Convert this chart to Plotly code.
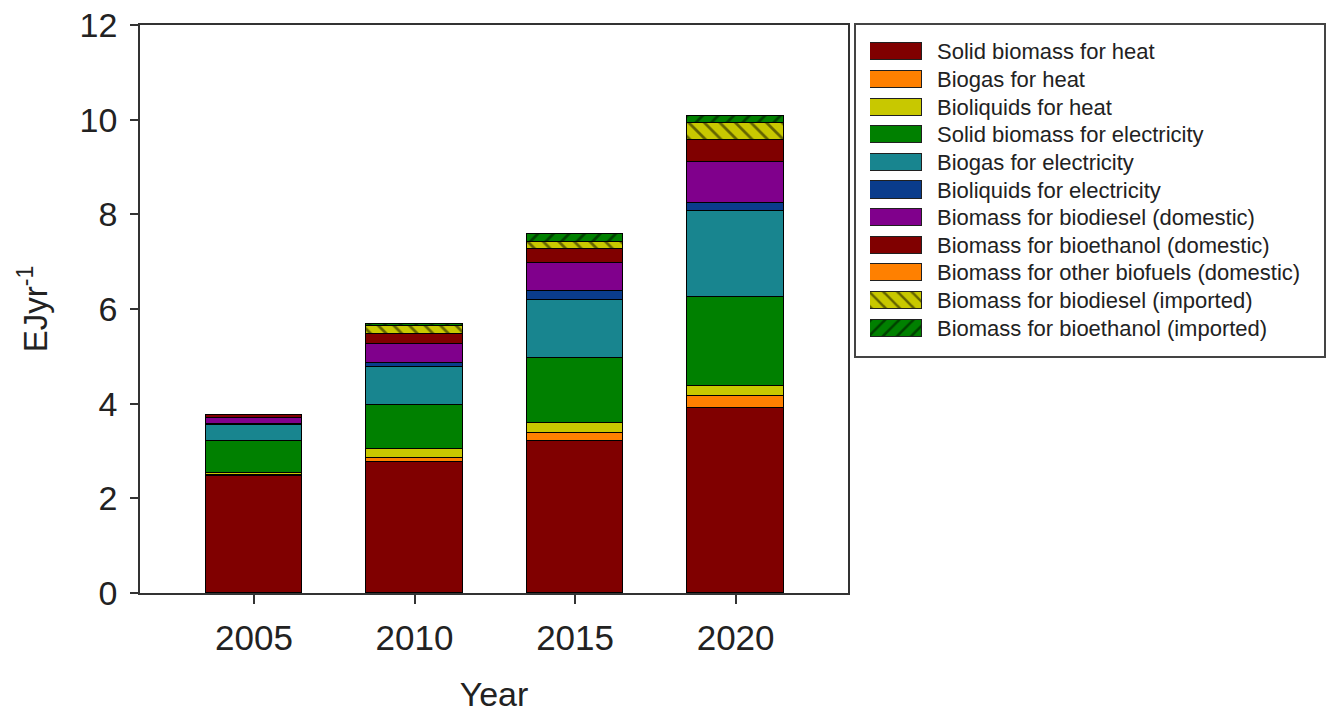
import plotly.graph_objects as go

# Bioenergy use by end-use category, EJ per year
years = ["2005", "2010", "2015", "2020"]

solid_biomass_heat = [2.47, 2.77, 3.22, 3.91]
biogas_heat = [0.02, 0.08, 0.16, 0.26]
bioliquids_heat = [0.04, 0.19, 0.21, 0.21]
solid_biomass_elec = [0.68, 0.93, 1.37, 1.87]
biogas_elec = [0.34, 0.80, 1.23, 1.82]
bioliquids_elec = [0.03, 0.08, 0.18, 0.16]
biodiesel_domestic = [0.12, 0.42, 0.61, 0.88]
bioethanol_domestic = [0.06, 0.20, 0.28, 0.46]
other_biofuels_domestic = [0.0, 0.0, 0.0, 0.0]
biodiesel_imported = [0.0, 0.18, 0.16, 0.35]
bioethanol_imported = [0.0, 0.04, 0.16, 0.15]

series_names = [
    "Solid biomass for heat",
    "Biogas for heat",
    "Bioliquids for heat",
    "Solid biomass for electricity",
    "Biogas for electricity",
    "Bioliquids for electricity",
    "Biomass for biodiesel (domestic)",
    "Biomass for bioethanol (domestic)",
    "Biomass for other biofuels (domestic)",
    "Biomass for biodiesel (imported)",
    "Biomass for bioethanol (imported)",
]
series_values = [
    solid_biomass_heat, biogas_heat, bioliquids_heat,
    solid_biomass_elec, biogas_elec, bioliquids_elec,
    biodiesel_domestic, bioethanol_domestic, other_biofuels_domestic,
    biodiesel_imported, bioethanol_imported,
]
series_colors = [
    "#800000", "#FF8000", "#C8C800",
    "#008000", "#18858F", "#0A3C8C",
    "#80008C", "#800000", "#FF8000",
    "#C8C800", "#008000",
]
series_hatch = ["", "", "", "", "", "", "", "", "", "\\", "/"]

FONT = "Liberation Sans, Arial, sans-serif"
W, H = 1328, 713
L, R, T, B = 140, 3, 25, 120
PW, PH = W - L - R, H - T - B


def px_x(p):
    return (p - L) / PW


def px_y(p):
    return (H - B - p) / PH


fig = go.Figure()

for name, vals, col, hatch in zip(series_names, series_values, series_colors, series_hatch):
    pattern = dict(shape=hatch, fgcolor="#000000", size=11, solidity=0.25) if hatch else None
    fig.add_trace(go.Bar(
        x=years, y=vals, name=name, width=0.6,
        marker=dict(color=col, line=dict(color="#000000", width=1), pattern=pattern),
        showlegend=False, xaxis="x", yaxis="y",
    ))

# Legend swatches drawn as horizontal bars on their own axes
for name, col, hatch in zip(series_names, series_colors, series_hatch):
    pattern = dict(shape=hatch, fgcolor="#000000", size=10, solidity=0.25) if hatch else None
    fig.add_trace(go.Bar(
        y=[name], x=[1], orientation="h", width=0.62,
        marker=dict(color=col, line=dict(color="#202020", width=1.2), pattern=pattern),
        showlegend=False, xaxis="x2", yaxis="y2", hoverinfo="skip",
    ))

annotations = []
for name in series_names:
    annotations.append(dict(
        x=px_x(935), xref="paper", y=name, yref="y2", text=name,
        showarrow=False, xanchor="left", yanchor="middle",
        font=dict(family=FONT, size=22, color="#222222"),
    ))

fig.update_layout(
    width=W, height=H,
    margin=dict(l=L, r=R, t=T, b=B),
    paper_bgcolor="white", plot_bgcolor="white",
    barmode="stack", bargap=0,
    font=dict(family=FONT, color="#222222"),
    xaxis=dict(
        domain=[0, px_x(848)], type="category", range=[-0.71, 3.70],
        showline=True, linecolor="#333333", linewidth=1.5, mirror=True,
        ticks="outside", ticklen=9, tickcolor="#333333", tickwidth=1.5,
        tickfont=dict(family=FONT, size=35, color="#222222"),
        ticklabelstandoff=4,
        showgrid=False, zeroline=False,
        title=dict(text="Year", font=dict(family=FONT, size=34, color="#222222"), standoff=30),
    ),
    yaxis=dict(
        range=[0, 12], dtick=2,
        showline=True, linecolor="#333333", linewidth=1.5, mirror=True,
        ticks="outside", ticklen=8, tickcolor="#333333", tickwidth=1.5,
        tickfont=dict(family=FONT, size=34, color="#222222"),
        ticklabelstandoff=6,
        showgrid=False, zeroline=False,
        title=dict(text="EJyr<sup>-1</sup>", font=dict(family=FONT, size=33, color="#222222"), standoff=22),
    ),
    xaxis2=dict(
        domain=[px_x(870), px_x(922)], range=[0, 1], anchor="y2",
        visible=False, fixedrange=True,
    ),
    yaxis2=dict(
        domain=[px_y(342), px_y(38)], type="category", anchor="x2",
        categoryorder="array", categoryarray=series_names,
        range=[10.5, -0.5], visible=False, fixedrange=True,
    ),
    shapes=[dict(
        type="rect", xref="paper", yref="paper",
        x0=px_x(855), x1=px_x(1325), y0=px_y(357), y1=px_y(24),
        line=dict(color="#444444", width=2), fillcolor="rgba(0,0,0,0)", layer="below",
    )],
    annotations=annotations,
)

fig.write_html("out.html")
